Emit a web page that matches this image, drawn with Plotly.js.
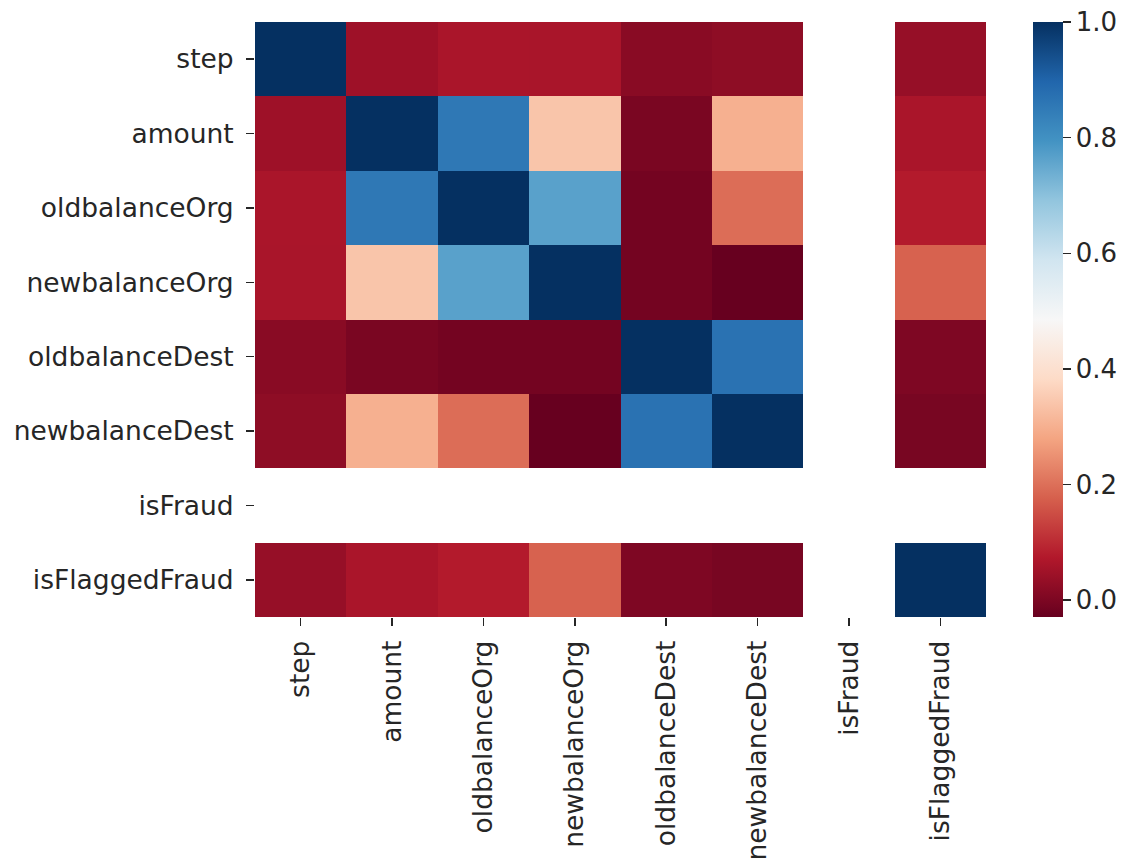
<!DOCTYPE html>
<html>
<head>
<meta charset="utf-8">
<script src="https://cdn.plot.ly/plotly-3.0.1.min.js"></script>
<style>html,body{margin:0;padding:0;background:#fff;}</style>
</head>
<body>
<div id="chart" style="width:1129px;height:866px;"></div>
<script>
var labels = ["step","amount","oldbalanceOrg","newbalanceOrg","oldbalanceDest","newbalanceDest","isFraud","isFlaggedFraud"];

// correlation rows (null = NaN, isFraud constant)
var rowStep            = [1.000, 0.046, 0.063, 0.062, 0.018, 0.025, null, 0.036];
var rowAmount          = [0.046, 1.000, 0.856, 0.340, -0.003, 0.300, null, 0.063];
var rowOldbalanceOrg   = [0.063, 0.856, 1.000, 0.765, -0.011, 0.196, null, 0.077];
var rowNewbalanceOrg   = [0.062, 0.340, 0.765, 1.000, -0.011, -0.029, null, 0.180];
var rowOldbalanceDest  = [0.018, -0.003, -0.011, -0.011, 1.000, 0.870, null, 0.003];
var rowNewbalanceDest  = [0.025, 0.300, 0.196, -0.029, 0.870, 1.000, null, -0.005];
var rowIsFraud         = [null, null, null, null, null, null, null, null];
var rowIsFlaggedFraud  = [0.036, 0.063, 0.077, 0.180, 0.003, -0.005, null, 1.000];

var colorbarTicks = [0.0, 0.2, 0.4, 0.6, 0.8, 1.0];

var z = [rowStep, rowAmount, rowOldbalanceOrg, rowNewbalanceOrg, rowOldbalanceDest, rowNewbalanceDest, rowIsFraud, rowIsFlaggedFraud];

var rdbu = ["#67001f","#b2182b","#d6604d","#f4a582","#fddbc7","#f7f7f7","#d1e5f0","#92c5de","#4393c3","#2166ac","#053061"];
var colorscale = rdbu.map(function(c,i){ return [i/(rdbu.length-1), c]; });

var textColor = "#262626";
var fontFam = "DejaVu Sans, sans-serif";

var trace = {
  type: "heatmap",
  x: labels,
  y: labels,
  z: z,
  zmin: -0.029,
  zmax: 1.0,
  colorscale: colorscale,
  hoverongaps: false,
  colorbar: {
    x: 1.0641, xanchor: "left", xpad: 0,
    y: 0.5, yanchor: "middle", ypad: 0,
    len: 1, lenmode: "fraction",
    thickness: 30,
    outlinewidth: 0,
    ticks: "outside", ticklen: 8, tickwidth: 1.5, tickcolor: textColor,
    tickvals: colorbarTicks,
    tickformat: ".1f",
    tickfont: {family: fontFam, size: 26, color: textColor}
  }
};

var layout = {
  width: 1129, height: 866,
  margin: {l: 255, r: 141, t: 22, b: 249, pad: 0},
  paper_bgcolor: "#ffffff",
  plot_bgcolor: "#ffffff",
  font: {family: fontFam, size: 26, color: textColor},
  xaxis: {
    type: "category",
    showgrid: false, zeroline: false, showline: false,
    ticks: "outside", ticklen: 8, tickwidth: 1.5, tickcolor: textColor,
    tickangle: -90,
    ticklabelstandoff: 4,
    tickfont: {family: fontFam, size: 26.5, color: textColor}
  },
  yaxis: {
    type: "category",
    autorange: "reversed",
    showgrid: false, zeroline: false, showline: false,
    ticks: "outside", ticklen: 8, tickwidth: 1.5, tickcolor: textColor,
    ticklabelstandoff: 7,
    tickfont: {family: fontFam, size: 26.5, color: textColor}
  }
};

Plotly.newPlot("chart", [trace], layout, {displayModeBar: false, staticPlot: true});
</script>
</body>
</html>
